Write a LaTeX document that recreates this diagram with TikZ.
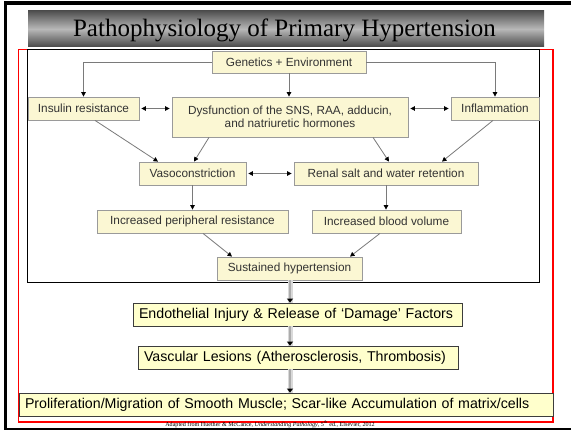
\documentclass[tikz,border=0pt]{standalone}
\usepackage{fontspec}
\setmainfont{Liberation Serif}
\newfontfamily\arialf{Liberation Sans}
\usetikzlibrary{arrows.meta,calc}
\definecolor{boxfill}{HTML}{FBF7D3}
\definecolor{boxdraw}{HTML}{9A9A9A}
\definecolor{txtgray}{HTML}{333333}
\definecolor{arrgray}{HTML}{7A7A7A}
\definecolor{lowfill}{HTML}{FFFFCC}
\definecolor{lowdraw}{HTML}{3C3C3C}
\definecolor{tdark}{HTML}{505050}
\definecolor{tlight}{HTML}{B8B8B8}
\begin{document}
\begin{tikzpicture}[x=1pt,y=-1pt,
 dbox/.style={draw=boxdraw, fill=boxfill, line width=0.8pt, inner sep=0pt, text=txtgray, font=\arialf\fontsize{11.8}{13.5}\selectfont, align=center},
 lbox/.style={draw=lowdraw, fill=lowfill, line width=0.8pt, inner ysep=0pt, inner xsep=6pt, minimum height=23pt, font=\arialf\fontsize{14.2}{16}\selectfont, align=left},
 darr/.style={draw=arrgray, line width=0.8pt, -{Triangle[length=4.5pt,width=4.5pt,black]}},
 ddarr/.style={draw=arrgray, line width=0.8pt, {Triangle[length=4.5pt,width=4.5pt,black]}-{Triangle[length=4.5pt,width=4.5pt,black]}, shorten >=2pt, shorten <=2pt},
 barw/.style={draw=gray!30, line width=5pt},
 barc/.style={draw=gray!65, line width=1.8pt, -{Triangle[length=4pt,width=6pt,black]}},
 ]
\useasboundingbox (0,0) rectangle (571,430);
\fill[white] (0,0) rectangle (571,430);
% slide frame
\fill[black] (4,1) rectangle (571,5);
\fill[black] (4,1) rectangle (7,430);
\fill[black] (4,428) rectangle (571,430);
% title bar
\shade[top color=tdark, bottom color=tdark!90!black, middle color=tlight] (28,11) rectangle (544,47);
\node[anchor=base, font=\fontsize{25}{28}\selectfont] (title) at (284.5,37) {Pathophysiology of Primary Hypertension};
% red frame and inner frame
\draw[red, line width=1.2pt] (18.5,49.5) rectangle (553,422);
\draw[black, line width=1pt] (27,50) rectangle (539,283);
% diagram boxes
\node[dbox, minimum width=154pt, minimum height=22pt] (gen) at (289,62) {Genetics + Environment};
\node[dbox, minimum width=111pt, minimum height=23pt] (ins) at (83.5,108.5) {Insulin resistance};
\node[dbox, minimum width=236pt, minimum height=40pt] (dys) at (290,117) {Dysfunction of the SNS, RAA, adducin,\\and natriuretic hormones};
\node[dbox, minimum width=88pt, minimum height=23pt] (inf) at (495,108.5) {Inflammation};
\node[dbox, minimum width=107pt, minimum height=23pt] (vaso) at (192.5,173.5) {Vasoconstriction};
\node[dbox, minimum width=184pt, minimum height=23pt] (ren) at (386,173.5) {Renal salt and water retention};
\node[dbox, minimum width=191pt, minimum height=23pt] (ipr) at (192.5,221.5) {Increased peripheral resistance};
\node[dbox, minimum width=149pt, minimum height=23pt] (ibv) at (386.5,221.5) {Increased blood volume};
\node[dbox, minimum width=145pt, minimum height=23pt] (sus) at (289.5,268.5) {Sustained hypertension};
% diagram arrows
\draw[darr] (gen.west) -| (ins.north);
\draw[darr] (gen.east) -| (inf.north);
\draw[darr] (gen.south) -- (gen.south |- dys.north);
\draw[ddarr] (ins.east) -- (ins.east -| dys.west);
\draw[ddarr] (dys.east |- inf.west) -- (inf.west);
\draw[darr] ([xshift=11.5pt]ins.south) -- ([xshift=-34.5pt]vaso.north);
\draw[darr] ([xshift=-81pt]dys.south) -- ([xshift=1.5pt]vaso.north);
\draw[darr] ([xshift=83pt]dys.south) -- ([xshift=3pt]ren.north);
\draw[darr] ([xshift=-2pt]inf.south) -- ([xshift=56pt]ren.north);
\draw[ddarr] (vaso.east) -- (ren.west);
\draw[darr] (vaso.south) -- (vaso.south |- ipr.north);
\draw[darr] (ren.south) -- (ren.south |- ibv.north);
\draw[darr] ([xshift=10.5pt]ipr.south) -- ([xshift=-57.5pt]sus.north);
\draw[darr] ([xshift=-6.5pt]ibv.south) -- ([xshift=60.5pt]sus.north);
% lower boxes
\node[lbox, text width=317pt] (endo) at (297.5,314.5) {Endothelial Injury \& Release of ‘Damage’ Factors};
\node[lbox, text width=308pt] (vasc) at (298,357.5) {Vascular Lesions (Atherosclerosis, Thrombosis)};
\node[lbox, text width=522pt] (prol) at (286,404.5) {Proliferation/Migration of Smooth Muscle; Scar-like Accumulation of matrix/cells};
% thick arrows
\coordinate (c1) at (290,280);
\draw[barw] (c1) -- (c1 |- endo.north);
\draw[barc] (c1) -- (c1 |- endo.north);
\draw[barw] (c1 |- endo.south) -- (c1 |- vasc.north);
\draw[barc] (c1 |- endo.south) -- (c1 |- vasc.north);
\draw[barw] (c1 |- vasc.south) -- (c1 |- prol.north);
\draw[barc] (c1 |- vasc.south) -- (c1 |- prol.north);
% footer
\node[anchor=base, font=\fontsize{6.1}{7}\selectfont, inner sep=0pt] (foot) at (270,426.5) {Adapted from Huether \& McCance, \textit{Understanding Pathology}, 5\textsuperscript{th} ed., Elsevier, 2012};
\end{tikzpicture}
\end{document}
